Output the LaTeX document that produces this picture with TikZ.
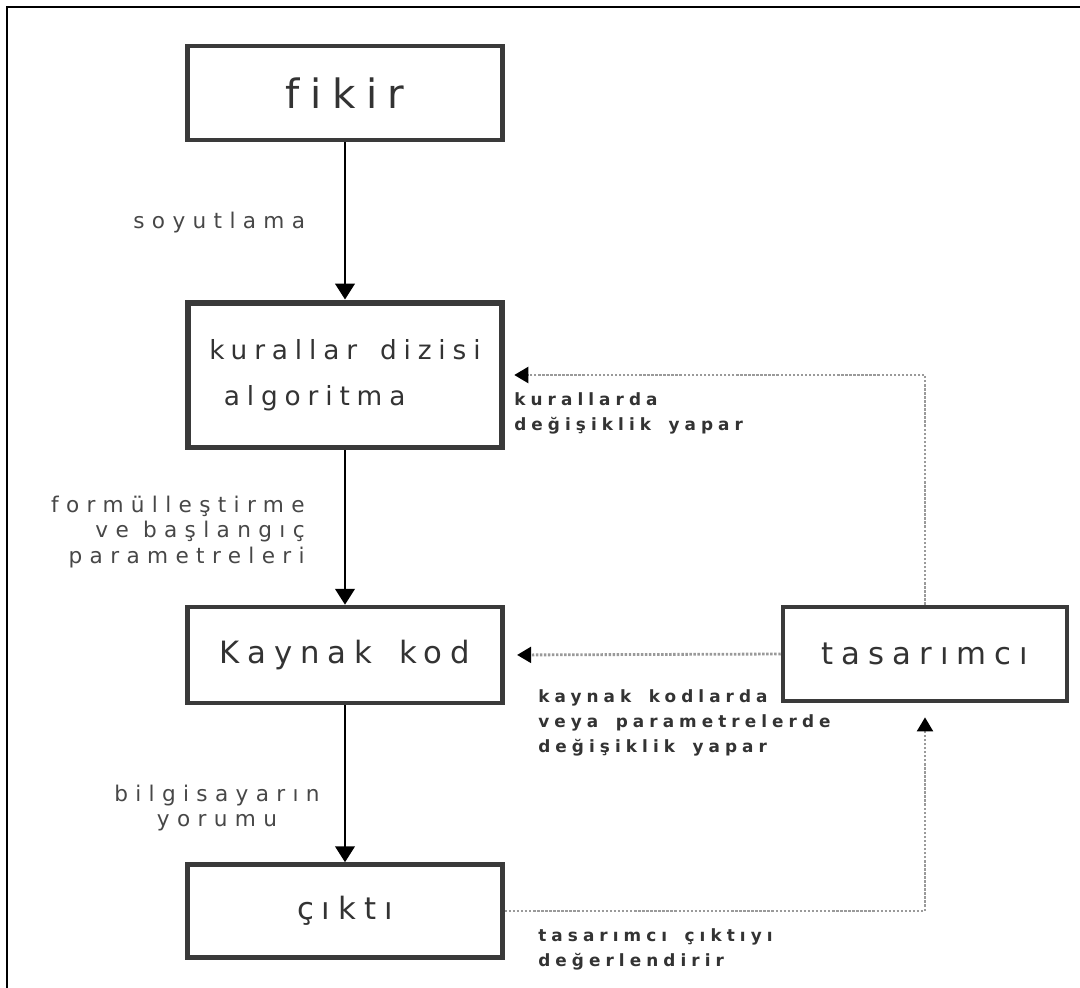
\documentclass[tikz,border=0pt]{standalone}
\usepackage{fontspec}
\usepackage{tikz}
\usetikzlibrary{arrows.meta}
\newfontfamily\kutufont[LetterSpace=26,WordSpace=1.5,Ligatures=NoCommon]{DejaVu Sans}
\newfontfamily\etiketfont[LetterSpace=34,Ligatures=NoCommon]{DejaVu Sans}
\newfontfamily\kalinfont[LetterSpace=30,WordSpace=1.6,Ligatures=NoCommon]{DejaVu Sans Bold}
\definecolor{cizgi}{HTML}{3A3A3A}
\definecolor{yazi}{HTML}{333333}
\definecolor{noktarengi}{HTML}{9A9A9A}

\tikzset{
  kutu/.style={draw=cizgi, line width=2.6pt, inner sep=0pt, text=yazi,
    font=\kutufont\fontsize{17.5}{20}\selectfont},
  etiket/.style={inner sep=0pt, text=yazi!90, align=right,
    font=\etiketfont\fontsize{12.3}{14.6}\selectfont},
  kalin/.style={inner sep=0pt, text=yazi, align=left, anchor=west,
    font=\kalinfont\fontsize{9.6}{14.2}\selectfont},
  oku/.style={line width=1.5pt, -{Triangle[width=11pt,length=9pt]}},
  noktali/.style={draw=noktarengi, line width=1.6pt, dash pattern=on 1.4pt off 0.9pt,
    -{Triangle[width=9pt,length=8pt,color=black]}}
}

\begin{document}
\begin{tikzpicture}[x=0.02cm, y=-0.02cm]
    \useasboundingbox (0,0) rectangle (1080,988);
    \draw[line width=1.2pt] (7,988) -- (7,7) -- (1080,7);

    \node[kutu, minimum width=6.3cm, minimum height=1.88cm,
      font=\kutufont\fontsize{23}{26}\selectfont] (fikir) at (345,93) {fikir};
    \node[kutu, minimum width=6.3cm, minimum height=2.9cm, line width=3.4pt,
      align=left, font=\kutufont\fontsize{15}{26}\selectfont] (kurallar) at (345,375) {kurallar dizisi\\\hspace{0.55em}algoritma};
    \node[kutu, minimum width=6.3cm, minimum height=1.92cm] (kaynak) at (345,655) {Kaynak kod};
    \node[kutu, minimum width=6.3cm, minimum height=1.86cm] (cikti) at (345,911) {çıktı};
    \node[kutu, minimum width=5.68cm, minimum height=1.88cm] (tasarimci) at (925,654) {tasarımcı};

    \draw[oku] (fikir) -- (kurallar);
    \draw[oku] (kurallar) -- (kaynak);
    \draw[oku] (kaynak) -- (cikti);

    \draw[noktali, shorten >=5pt] (tasarimci.north) |- (kurallar.east);
    \draw[noktali, shorten >=7pt] (tasarimci.west) -- (kaynak.east);
    \draw[noktali, shorten >=8pt] (cikti.east) -| (tasarimci.south);

    \node[etiket, anchor=west] (soyut) at (133,223) {soyutlama};
    \node[etiket, anchor=east] (formul) at (305,532) {formülleştirme\\ve başlangıç\\parametreleri};
    \node[etiket, anchor=east, align=center] (yorum) at (320,808) {bilgisayarın\\yorumu};

    \node[kalin] (kuraldeg) at (514,413) {kurallarda\\değişiklik yapar};
    \node[kalin] (kodDeg) at (538,723) {kaynak kodlarda\\veya parametrelerde\\değişiklik yapar};
    \node[kalin] (degerlendir) at (538,949) {tasarımcı çıktıyı\\değerlendirir};
\end{tikzpicture}
\end{document}
